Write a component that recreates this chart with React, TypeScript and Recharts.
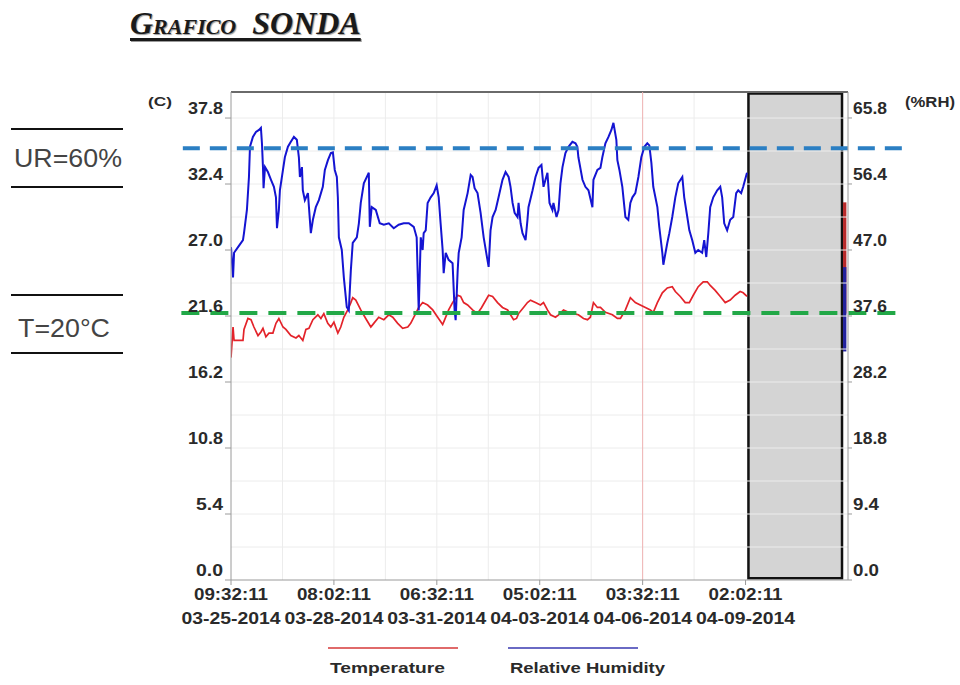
import { LineChart, Line, XAxis, YAxis, ReferenceLine, ReferenceArea } from "recharts";

// hours since 03-25-2014 09:32:11
const timeTicks = [0, 70.5, 141, 211.5, 282, 352.5];
const timeLabels = ["09:32:11", "08:02:11", "06:32:11", "05:02:11", "03:32:11", "02:02:11"];
const dateLabels = ["03-25-2014", "03-28-2014", "03-31-2014", "04-03-2014", "04-06-2014", "04-09-2014"];
const gridHours = [35.25, 70.5, 105.75, 141, 176.25, 211.5, 246.75, 282, 317.25];

const tempTicks = [0, 5.4, 10.8, 16.2, 21.6, 27.0, 32.4, 37.8];
const rhTicks = [0, 9.4, 18.8, 28.2, 37.6, 47.0, 56.4, 65.8];
const tempGrid = [2.7, 5.4, 8.1, 10.8, 13.5, 16.2, 18.9, 21.6, 24.3, 27.0, 29.7, 32.4, 35.1, 37.8];

const rhHours = [
  0, 1.4, 2.1, 4.8, 8.2, 8.9, 10.9, 12.3, 13.0, 15.0,
  17.1, 19.2, 20.5, 21.2, 21.9, 22.3, 23.3, 25.3, 27.4, 29.4,
  30.8, 31.5, 32.8, 33.5, 35.6, 36.9, 39.0, 41.0, 43.1, 45.1,
  46.5, 47.2, 48.6, 49.2, 50.6, 52.7, 53.4, 54.7, 56.1, 58.1,
  60.2, 62.9, 64.3, 66.4, 68.4, 69.8, 71.1, 72.5, 73.2, 73.9,
  75.9, 77.3, 79.3, 80.7, 82.1, 83.4, 86.2, 87.6, 88.9, 91.0,
  93.7, 94.4, 95.1, 96.4, 99.2, 101.9, 104.7, 108.1, 111.5, 114.9,
  118.3, 121.8, 125.2, 127.2, 128.6, 130.0, 131.3, 132.0, 133.4, 134.7,
  136.8, 138.9, 140.9, 142.3, 143.6, 145.0, 145.7, 147.1, 149.1, 151.8,
  153.2, 153.9, 155.3, 156.0, 158.0, 159.4, 162.1, 164.2, 165.5, 166.9,
  168.9, 171.0, 173.1, 175.1, 176.5, 177.8, 179.2, 181.3, 183.3, 186.0,
  188.1, 190.2, 191.5, 192.9, 194.3, 196.3, 197.0, 198.4, 199.7, 201.8,
  203.1, 203.8, 206.6, 208.6, 210.7, 212.7, 214.1, 216.8, 218.2, 220.2,
  220.9, 223.0, 224.4, 225.7, 227.1, 229.1, 231.2, 233.9, 236.0, 237.3,
  238.0, 240.8, 242.8, 244.9, 247.6, 248.3, 251.0, 253.1, 254.4, 256.5,
  258.6, 260.6, 262.0, 264.0, 264.7, 266.1, 268.1, 270.2, 272.2, 273.6,
  275.0, 277.0, 279.1, 281.1, 283.2, 285.2, 286.6, 288.0, 289.3, 292.1,
  293.4, 295.5, 296.2, 298.9, 300.3, 302.3, 304.4, 306.4, 309.2, 310.5,
  312.6, 314.0, 316.0, 318.1, 320.1, 322.8, 324.2, 325.6, 327.0, 328.3,
  330.4, 333.1, 335.2, 336.5, 337.9, 339.9, 342.0, 344.1, 346.1, 347.5,
  349.5, 350.9, 353.5,
];
const rhValues = [
  47.4, 43.1, 46.6, 47.4, 48.4, 49.4, 52.7, 57.4, 61.7, 63.1,
  63.8, 64.1, 64.4, 62.2, 58.8, 55.8, 58.8, 58.1, 57.0, 56.0,
  54.5, 50.1, 52.7, 55.5, 58.4, 60.2, 61.7, 62.4, 63.1, 62.7,
  60.2, 57.4, 58.8, 55.5, 54.1, 55.1, 53.1, 49.4, 51.3, 53.1,
  54.1, 56.0, 58.4, 59.8, 60.8, 60.9, 58.4, 57.4, 54.5, 48.8,
  47.0, 43.1, 38.9, 38.4, 44.1, 48.0, 48.8, 50.8, 53.7, 56.5,
  57.7, 58.0, 50.3, 53.1, 52.7, 50.8, 50.6, 50.8, 50.1, 50.6,
  50.8, 50.8, 50.3, 48.8, 38.4, 48.8, 47.0, 49.4, 49.8, 53.7,
  54.5, 55.1, 56.2, 54.5, 50.8, 47.0, 43.7, 46.6, 45.6, 45.1,
  38.4, 37.0, 44.1, 46.6, 48.8, 52.7, 55.1, 57.7, 57.4, 55.8,
  55.1, 52.3, 48.8, 46.3, 44.6, 49.8, 51.7, 52.7, 54.5, 57.0,
  58.1, 57.4, 56.0, 53.7, 52.3, 51.7, 53.7, 50.8, 49.4, 48.4,
  51.3, 53.1, 55.5, 57.4, 58.7, 59.1, 56.0, 58.0, 53.7, 52.7,
  53.7, 51.7, 52.7, 56.5, 58.8, 60.8, 61.7, 62.4, 62.2, 61.7,
  60.2, 57.0, 56.0, 55.5, 53.1, 57.0, 58.4, 58.7, 60.2, 62.2,
  63.1, 64.1, 65.1, 62.7, 59.8, 58.4, 56.0, 51.7, 51.3, 53.7,
  54.5, 55.1, 57.4, 60.2, 61.7, 62.2, 61.9, 59.4, 56.0, 53.1,
  50.3, 46.6, 44.9, 48.0, 49.4, 51.7, 54.5, 56.5, 57.4, 54.5,
  51.7, 49.8, 48.4, 46.6, 47.0, 46.6, 48.4, 46.0, 49.4, 53.1,
  54.5, 55.5, 56.0, 54.5, 50.8, 49.8, 51.3, 51.7, 55.1, 55.5,
  55.1, 56.0, 58.0,
];

const tempHours = [
  0, 1.4, 2.1, 4.8, 8.2, 8.9, 11.6, 13.7, 15.7, 18.5,
  20.5, 21.9, 23.9, 26.0, 28.7, 30.8, 32.8, 35.6, 37.6, 41.0,
  44.5, 46.5, 49.2, 51.3, 53.4, 56.1, 59.5, 61.6, 63.6, 66.3,
  68.4, 70.5, 73.2, 75.2, 77.3, 80.0, 82.1, 83.4, 85.5, 88.9,
  92.3, 95.8, 97.8, 101.2, 104.7, 108.1, 110.8, 114.2, 117.6, 121.1,
  123.1, 126.5, 128.6, 131.3, 134.7, 138.2, 141.6, 145.0, 146.4, 149.1,
  151.8, 155.3, 157.3, 159.4, 162.1, 165.5, 168.9, 171.7, 176.5, 179.2,
  182.6, 186.0, 189.5, 191.5, 193.6, 195.6, 197.0, 200.4, 203.1, 205.2,
  208.6, 212.0, 214.1, 216.8, 218.9, 222.3, 224.4, 227.8, 231.2, 234.6,
  238.0, 241.5, 244.2, 246.2, 248.3, 251.0, 253.1, 256.5, 261.3, 264.7,
  266.8, 270.2, 273.6, 277.0, 280.4, 283.9, 287.3, 289.3, 292.1, 295.5,
  298.9, 302.3, 304.4, 307.8, 311.2, 314.0, 316.7, 320.1, 323.5, 326.3,
  328.3, 331.7, 335.2, 338.6, 342.0, 345.4, 348.8, 350.9, 353.5,
];
const tempValues = [
  18.2, 20.7, 19.6, 19.6, 19.6, 20.5, 21.4, 21.3, 20.7, 20.0,
  20.3, 20.6, 19.9, 20.2, 20.2, 21.0, 21.4, 20.7, 20.5, 20.0,
  19.8, 20.0, 19.6, 20.5, 20.6, 21.3, 21.7, 21.4, 21.8, 21.0,
  20.7, 21.1, 20.2, 20.7, 21.5, 22.1, 22.7, 23.1, 22.9, 22.1,
  21.4, 20.7, 21.0, 21.5, 21.3, 21.7, 21.5, 21.0, 20.6, 20.7,
  21.0, 21.8, 22.3, 22.7, 22.5, 22.1, 21.5, 20.9, 21.3, 22.1,
  22.7, 23.3, 23.2, 22.7, 22.5, 22.1, 21.8, 22.3, 23.3, 23.2,
  22.7, 22.3, 22.1, 21.7, 21.3, 21.4, 21.8, 22.3, 22.7, 22.9,
  22.7, 22.5, 22.7, 22.1, 21.7, 21.5, 21.7, 22.1, 21.9, 21.8,
  21.7, 21.4, 21.3, 21.5, 22.7, 22.3, 22.3, 21.9, 21.7, 21.4,
  21.4, 22.1, 23.1, 22.7, 22.5, 22.3, 22.1, 21.9, 22.7, 23.5,
  23.9, 24.0, 23.6, 23.2, 22.7, 22.7, 23.3, 24.0, 24.4, 24.4,
  24.1, 23.7, 23.2, 22.7, 22.9, 23.3, 23.6, 23.5, 23.2,
];

const rhData = rhHours.map((h, i) => ({ h, rh: rhValues[i] }));
const tempData = tempHours.map((h, i) => ({ h, temp: tempValues[i] }));

const font = "'Liberation Sans', Arial, sans-serif";

const LeftTick = ({ x, y, payload }: any) => (
  <text x={x} y={y - 4} textAnchor="end" fontFamily={font} fontSize={16} fontWeight={700} fill="#2a2a2a"
    textLength={payload.value >= 10 ? 35 : 27} lengthAdjust="spacingAndGlyphs">
    {payload.value.toFixed(1)}
  </text>
);

const RightTick = ({ x, y, payload }: any) => (
  <text x={x} y={y - 4} textAnchor="start" fontFamily={font} fontSize={16} fontWeight={700} fill="#2a2a2a"
    textLength={payload.value >= 10 ? 34 : 26} lengthAdjust="spacingAndGlyphs">
    {payload.value.toFixed(1)}
  </text>
);

const TimeTick = ({ x, y, payload }: any) => {
  const i = timeTicks.indexOf(payload.value);
  if (i < 0) return null;
  return (
    <g fontFamily={font} fontSize={16} fontWeight={700} fill="#2a2a2a">
      <text x={x} y={y + 15} textAnchor="middle" textLength={74} lengthAdjust="spacingAndGlyphs">{timeLabels[i]}</text>
      <text x={x} y={y + 39} textAnchor="middle" textLength={99} lengthAdjust="spacingAndGlyphs">{dateLabels[i]}</text>
    </g>
  );
};

export default function App() {
  return (
    <div style={{ position: "absolute", left: 0, top: 0, width: 960, height: 685, background: "#fff" }}>
      <div
        style={{
          position: "absolute", left: 130, top: 6, fontFamily: "'Liberation Serif', 'Times New Roman', serif",
          fontStyle: "italic", fontWeight: 700, fontSize: 32, fontVariant: "small-caps", whiteSpace: "pre",
          color: "#1a1a1a", textDecoration: "underline", textDecorationThickness: 2.5, textUnderlineOffset: 4,
          textShadow: "1px 1px 1px #9a9a9a", lineHeight: "34px",
        }}
      >
        {"Grafico  SONDA"}
      </div>

      <LineChart width={960} height={685} margin={{ top: 92, right: 52, bottom: 60, left: 171 }} style={{ position: "absolute", left: 0, top: 0 }}>
        {gridHours.map((g) => (
          <ReferenceLine key={"vx" + g} x={g} yAxisId="t" stroke="#ececec" strokeWidth={1} />
        ))}
        {tempGrid.map((g) => (
          <ReferenceLine key={"hy" + g} y={g} yAxisId="t" stroke="#ececec" strokeWidth={1} />
        ))}
        <XAxis
          dataKey="h" type="number" domain={[0, 422.7]} ticks={timeTicks} allowDataOverflow
          height={45} tickSize={5} tickMargin={0} tick={<TimeTick />} interval={0}
          axisLine={{ stroke: "#9a9a9a" }} tickLine={{ stroke: "#9a9a9a" }}
        />
        <YAxis
          yAxisId="t" domain={[0, 39.93]} ticks={tempTicks} width={60} tickSize={6} tickMargin={2}
          tick={<LeftTick />} interval={0} axisLine={{ stroke: "#9a9a9a" }} tickLine={{ stroke: "#9a9a9a" }}
        />
        <YAxis
          yAxisId="rh" orientation="right" domain={[0, 69.5]} ticks={rhTicks} width={60} tickSize={4} tickMargin={1}
          tick={<RightTick />} interval={0} axisLine={{ stroke: "#9a9a9a" }} tickLine={{ stroke: "#9a9a9a" }}
        />
        <ReferenceLine y={39.93} yAxisId="t" stroke="#6a6a6a" strokeWidth={2} />
        <ReferenceLine x={282} yAxisId="t" stroke="#f0b4b4" strokeWidth={1} />
        <Line data={tempData} yAxisId="t" dataKey="temp" type="linear" stroke="#e3232a" strokeWidth={1.7} dot={false} isAnimationActive={false} />
        <Line data={rhData} yAxisId="rh" dataKey="rh" type="linear" stroke="#1414d2" strokeWidth={2} dot={false} isAnimationActive={false} />
        <ReferenceArea x1={354.5} x2={418.6} y1={0.15} y2={39.8} yAxisId="t" fill="#d4d4d4" fillOpacity={1} stroke="#111" strokeWidth={2.5} />
        <ReferenceArea x1={419.3} x2={421.6} y1={21.8} y2={30.9} yAxisId="t" fill="#b82a2a" fillOpacity={1} />
        <ReferenceArea x1={419.3} x2={421.6} y1={18.7} y2={25.6} yAxisId="t" fill="#22229e" fillOpacity={1} />
        <ReferenceLine
          yAxisId="rh" ifOverflow="visible" segment={[{ x: -33, y: 61.5 }, { x: 465, y: 61.5 }]}
          stroke="#2b7fc3" strokeWidth={4} strokeDasharray="17 10"
        />
        <ReferenceLine
          yAxisId="t" ifOverflow="visible" segment={[{ x: -34, y: 21.85 }, { x: 458, y: 21.85 }]}
          stroke="#22a847" strokeWidth={4} strokeDasharray="18 11"
        />
      </LineChart>

      <svg width={960} height={685} style={{ position: "absolute", left: 0, top: 0, pointerEvents: "none" }}>
        <g fontFamily={font}>
          <text x={148} y={106} fontSize={13} fontWeight={700} fill="#2a2a2a" textLength={24} lengthAdjust="spacingAndGlyphs">(C)</text>
          <text x={905} y={107} fontSize={14} fontWeight={700} fill="#2a2a2a" textLength={50} lengthAdjust="spacingAndGlyphs">(%RH)</text>

          <line x1={11} x2={123} y1={129} y2={129} stroke="#111" strokeWidth={2} />
          <text x={14} y={167} fontSize={26} fill="#444" textLength={108} lengthAdjust="spacingAndGlyphs">UR=60%</text>
          <line x1={11} x2={123} y1={187} y2={187} stroke="#111" strokeWidth={2} />

          <line x1={11} x2={123} y1={295} y2={295} stroke="#111" strokeWidth={2} />
          <text x={18} y={337} fontSize={26} fill="#444" textLength={92} lengthAdjust="spacingAndGlyphs">T=20°C</text>
          <line x1={11} x2={123} y1={353} y2={353} stroke="#111" strokeWidth={2} />

          <line x1={328} x2={458} y1={648} y2={648} stroke="#e06a6a" strokeWidth={2} />
          <text x={330} y={673} fontSize={15} fontWeight={700} fill="#2a2a2a" textLength={115} lengthAdjust="spacingAndGlyphs">Temperature</text>
          <line x1={508} x2={638} y1={648} y2={648} stroke="#6a6ac4" strokeWidth={2} />
          <text x={510} y={673} fontSize={15} fontWeight={700} fill="#2a2a2a" textLength={155} lengthAdjust="spacingAndGlyphs">Relative Humidity</text>
        </g>
      </svg>
    </div>
  );
}
